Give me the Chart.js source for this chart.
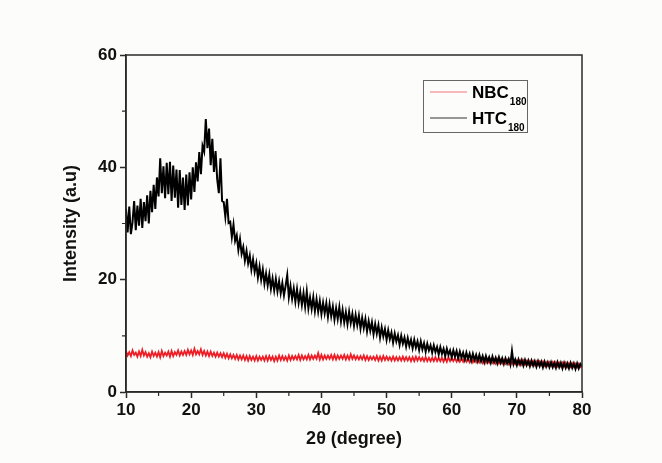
<!DOCTYPE html>
<html>
<head>
<meta charset="utf-8">
<script src="https://cdn.jsdelivr.net/npm/chart.js@4.4.1/dist/chart.umd.min.js"></script>
<style>
  html, body { margin: 0; padding: 0; background: #fcfcfa; }
  #xrd { display: block; }
</style>
</head>
<body>
<canvas id="xrd" width="662" height="463"></canvas>
<script>
// 2-theta sampling grid of the scan (degrees)
const angleStart = 10;
const angleStep = 0.25;

// NBC180 (4 readings per degree, 10 .. 80)
const nbc180 = [
  7.3, 6.5, 7.1, 6.4,  7.4, 6.6, 7.0, 6.3,  7.2, 6.4, 7.5, 6.5,  7.1, 6.3, 6.9, 6.2,
  7.2, 6.4, 7.0, 6.3,  7.1, 6.2, 7.3, 6.4,  7.0, 6.5, 7.2, 6.3,  7.3, 6.4, 7.1, 6.6,
  7.4, 6.5, 7.2, 6.6,  7.3, 6.6, 7.5, 6.7,  7.4, 6.6, 7.7, 6.7,  7.3, 6.7, 7.6, 6.6,
  7.3, 6.5, 7.2, 6.4,  7.2, 6.4, 7.0, 6.3,  7.0, 6.3, 6.9, 6.2,  6.9, 6.1, 6.8, 6.0,
  6.7, 6.0, 6.6, 5.9,  6.6, 5.8, 6.5, 5.8,  6.5, 5.7, 6.4, 5.6,  6.4, 5.7, 6.3, 5.6,
  6.4, 5.6, 6.3, 5.7,  6.3, 5.6, 6.4, 5.6,  6.4, 5.7, 6.3, 5.5,  6.3, 5.6, 6.5, 5.7,
  6.4, 5.7, 6.3, 5.6,  6.5, 5.7, 6.4, 5.8,  6.4, 5.8, 6.6, 5.7,  6.5, 5.8, 6.4, 5.8,
  6.6, 5.8, 6.5, 5.9,  6.5, 5.9, 6.9, 5.8,  6.6, 5.8, 6.5, 5.9,  6.5, 5.9, 6.6, 5.8,
  6.6, 5.8, 6.5, 5.9,  6.5, 5.9, 6.6, 5.8,  6.5, 5.8, 6.7, 5.9,  6.5, 5.8, 6.4, 5.8,
  6.4, 5.8, 6.5, 5.7,  6.4, 5.7, 6.3, 5.8,  6.3, 5.7, 6.4, 5.6,  6.3, 5.6, 6.4, 5.7,
  6.3, 5.7, 6.2, 5.6,  6.3, 5.6, 6.2, 5.6,  6.2, 5.6, 6.3, 5.6,  6.2, 5.6, 6.2, 5.5,
  6.2, 5.5, 6.3, 5.6,  6.2, 5.6, 6.1, 5.5,  6.2, 5.5, 6.1, 5.5,  6.1, 5.5, 6.2, 5.5,
  6.1, 5.5, 6.1, 5.4,  6.1, 5.4, 6.2, 5.5,  6.1, 5.5, 6.0, 5.4,  6.1, 5.4, 6.0, 5.4,
  6.0, 5.4, 6.0, 5.3,  6.0, 5.3, 5.9, 5.3,  5.9, 5.3, 5.9, 5.2,  5.9, 5.2, 5.8, 5.2,
  5.8, 5.2, 5.8, 5.1,  5.8, 5.1, 5.7, 5.1,  5.7, 5.1, 5.7, 5.0,  5.7, 5.0, 5.6, 5.0,
  5.6, 5.0, 5.6, 4.9,  5.6, 4.9, 5.5, 4.9,  5.5, 4.9, 5.5, 4.8,  5.4, 4.8, 5.4, 4.8,
  5.4, 4.7, 5.3, 4.7,  5.3, 4.7, 5.3, 4.6,  5.3, 4.6, 5.2, 4.6,  5.2, 4.6, 5.2, 4.5,
  5.1, 4.5, 5.1, 4.5,  5.0, 4.4, 5.0, 4.4,
  4.6
];

// HTC180 (4 readings per degree, 10 .. 80)
const htc180 = [
  32.6, 28.4, 33.0, 28.1,  30.2, 34.0, 28.8, 33.2,  29.6, 34.4, 29.2, 33.8,  30.4, 35.0, 30.0, 35.8,
  32.0, 36.9, 32.6, 38.2,  34.8, 41.6, 35.4, 40.2,  34.5, 40.8, 35.2, 41.0,  34.0, 40.3, 34.6, 39.6,
  32.8, 39.5, 33.3, 38.2,  32.4, 38.7, 33.2, 39.1,  34.3, 40.0, 35.6, 40.9,  37.5, 42.7, 38.8, 43.8,
  42.8, 48.6, 43.4, 46.9,  40.4, 45.1, 39.2, 42.9,  37.9, 35.4, 41.6, 34.0,  33.8, 31.2, 34.4, 30.1,
  30.3, 27.6, 29.8, 26.9,  27.9, 25.3, 27.2, 24.6,  25.8, 23.4, 25.1, 22.9,  24.3, 21.8, 23.6, 21.4,
  22.9, 20.4, 22.3, 20.0,  21.8, 19.3, 21.1, 19.0,  20.9, 18.4, 20.2, 18.1,  20.1, 17.9, 19.7, 17.6,
  19.4, 17.2, 18.9, 20.8,  16.9, 18.9, 16.6, 18.4,  16.1, 18.3, 15.9, 17.8,  15.5, 17.6, 15.2, 17.9,
  14.9, 16.8, 14.8, 16.9,  14.4, 16.5, 14.3, 16.2,  13.9, 15.9, 14.0, 15.8,  13.4, 15.6, 13.5, 15.2,
  12.9, 14.9, 13.0, 15.1,  12.6, 14.6, 12.4, 14.2,  12.1, 14.3, 12.3, 13.9,  11.8, 13.7, 11.9, 13.6,
  11.3, 13.2, 11.4, 13.0,  10.8, 12.6, 10.9, 12.4,  10.3, 12.1, 10.4, 11.9,  9.7, 11.5, 9.9, 11.2,
  9.3, 11.0, 9.4, 10.6,  8.8, 10.4, 9.0, 10.1,  8.4, 10.0, 8.6, 9.7,  8.1, 9.6, 8.2, 9.3,
  7.8, 9.3, 7.9, 9.0,  7.5, 9.0, 7.6, 8.7,  7.2, 8.6, 7.4, 8.3,  7.0, 8.3, 7.1, 8.0,
  6.7, 8.0, 6.8, 7.7,  6.4, 7.7, 6.6, 7.4,  6.2, 7.4, 6.3, 7.3,  6.0, 7.2, 6.1, 7.0,
  5.8, 7.0, 5.9, 6.8,  5.6, 6.8, 5.7, 6.6,  5.5, 6.6, 5.5, 6.4,  5.3, 6.4, 5.4, 6.2,
  5.2, 6.3, 5.3, 6.1,  5.1, 6.2, 5.2, 6.0,  5.0, 6.0, 5.1, 5.9,  4.9, 7.3, 5.0, 5.8,
  4.8, 5.8, 4.9, 5.7,  4.7, 5.7, 4.8, 5.6,  4.6, 5.6, 4.7, 5.5,  4.5, 5.5, 4.6, 5.4,
  4.4, 5.4, 4.5, 5.3,  4.4, 5.3, 4.4, 5.2,  4.3, 5.3, 4.4, 5.2,  4.2, 5.2, 4.3, 5.1,
  4.2, 5.2, 4.3, 5.1,  4.1, 5.1, 4.2, 5.0,
  4.6
];

const xMajor = [10, 20, 30, 40, 50, 60, 70, 80];
const xMinor = [15, 25, 35, 45, 55, 65, 75];
const yMajor = [0, 20, 40, 60];
const yMinor = [10, 30, 50];

const seriesNames = ['NBC', 'HTC'];
const seriesSub = ['180', '180'];
const seriesColors = ['#ee1c24', '#000000'];

const FONT = "'Liberation Sans', Arial, sans-serif";
const AXIS = '#2a2a2a';

const toPoints = arr => arr.map((v, i) => ({ x: angleStart + i * angleStep, y: v }));

// box frame, minor ticks and the legend with subscripts
const extras = {
  id: 'extras',
  afterDraw(chart) {
    const { ctx, chartArea: a, scales } = chart;
    ctx.save();
    ctx.strokeStyle = AXIS;
    ctx.lineWidth = 1.5;
    ctx.strokeRect(a.left, a.top, a.right - a.left, a.bottom - a.top);

    ctx.lineWidth = 1.2;
    ctx.beginPath();
    xMinor.forEach(v => {
      const px = scales.x.getPixelForValue(v);
      ctx.moveTo(px, a.bottom); ctx.lineTo(px, a.bottom + 4);
    });
    yMinor.forEach(v => {
      const py = scales.y.getPixelForValue(v);
      ctx.moveTo(a.left, py); ctx.lineTo(a.left - 4, py);
    });
    ctx.stroke();

    // legend
    const bx = a.left + 297, by = a.top + 25, bw = 104, bh = 52;
    ctx.fillStyle = '#fcfcfa';
    ctx.fillRect(bx, by, bw, bh);
    ctx.strokeStyle = '#666';
    ctx.lineWidth = 1;
    ctx.strokeRect(bx + 0.5, by + 0.5, bw, bh);
    seriesNames.forEach((name, i) => {
      const ly = by + 12 + i * 26;
      ctx.strokeStyle = seriesColors[i];
      ctx.globalAlpha = i === 0 ? 0.6 : 0.8;
      ctx.lineWidth = 1;
      ctx.beginPath();
      ctx.moveTo(bx + 7, ly); ctx.lineTo(bx + 44, ly);
      ctx.stroke();
      ctx.globalAlpha = 1;
      ctx.fillStyle = '#000';
      ctx.textBaseline = 'middle';
      ctx.font = 'bold 17px ' + FONT;
      ctx.fillText(name, bx + 49, ly + 1);
      const w = ctx.measureText(name).width;
      ctx.font = 'bold 10px ' + FONT;
      ctx.fillText(seriesSub[i], bx + 50 + w, ly + 10);
    });
    ctx.restore();
  }
};

new Chart(document.getElementById('xrd'), {
  type: 'line',
  data: {
    datasets: [
      {
        label: seriesNames[0] + seriesSub[0],
        data: toPoints(nbc180),
        borderColor: seriesColors[0],
        borderWidth: 1.8,
        pointRadius: 0,
        tension: 0,
        order: 2
      },
      {
        label: seriesNames[1] + seriesSub[1],
        data: toPoints(htc180),
        borderColor: seriesColors[1],
        borderWidth: 2,
        pointRadius: 0,
        tension: 0,
        order: 1
      }
    ]
  },
  options: {
    responsive: false,
    animation: false,
    layout: { padding: { left: 56, right: 80, top: 55, bottom: 9 } },
    plugins: { legend: { display: false }, tooltip: { enabled: false } },
    scales: {
      x: {
        type: 'linear',
        min: 10, max: 80,
        afterFit: s => { s.height = 62; },
        afterBuildTicks: s => { s.ticks = xMajor.map(v => ({ value: v })); },
        grid: { drawOnChartArea: false, drawTicks: true, tickLength: 6, color: AXIS, tickWidth: 1.5 },
        border: { display: true, color: AXIS, width: 1.5 },
        ticks: { color: '#111', padding: 2, font: { family: FONT, size: 17, weight: 'bold' } },
        title: { display: true, text: '2θ (degree)', color: '#111', padding: 4,
                 font: { family: FONT, size: 18, weight: 'bold' } }
      },
      y: {
        min: 0, max: 60,
        afterFit: s => { s.width = 70; },
        afterBuildTicks: s => { s.ticks = yMajor.map(v => ({ value: v })); },
        grid: { drawOnChartArea: false, drawTicks: true, tickLength: 6, color: AXIS, tickWidth: 1.5 },
        border: { display: true, color: AXIS, width: 1.5 },
        ticks: { color: '#111', padding: 3, font: { family: FONT, size: 17, weight: 'bold' } },
        title: { display: true, text: 'Intensity (a.u)', color: '#111', padding: 4,
                 font: { family: FONT, size: 18, weight: 'bold' } }
      }
    }
  },
  plugins: [extras]
});
</script>
</body>
</html>
